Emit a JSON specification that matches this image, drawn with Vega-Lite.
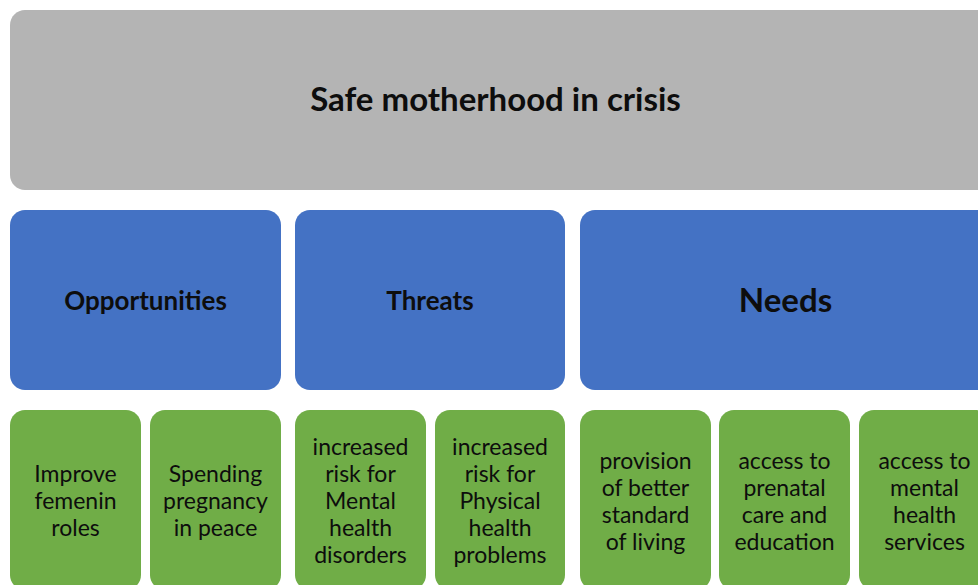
{
  "$schema": "https://vega.github.io/schema/vega-lite/v6.json",
  "autosize": {"type": "fit", "contains": "padding"},
  "width": 978,
  "height": 585,
  "padding": 0,
  "background": "white",
  "config": {"view": {"stroke": null}},
  "data": {
    "values": [
      {"level": "top", "label": "Safe motherhood in crisis", "x0": 10, "x1": 995, "y0": 10, "y1": 190},
      {"level": "group", "label": "Opportunities", "x0": 10, "x1": 281, "y0": 210, "y1": 390},
      {"level": "group", "label": "Threats", "x0": 295, "x1": 565, "y0": 210, "y1": 390},
      {"level": "group", "label": "Needs", "x0": 580, "x1": 995, "y0": 210, "y1": 390},
      {"level": "leaf", "label": "Improve\nfemenin\nroles", "x0": 10, "x1": 141, "y0": 410, "y1": 590},
      {"level": "leaf", "label": "Spending\npregnancy\nin peace", "x0": 150, "x1": 281, "y0": 410, "y1": 590},
      {"level": "leaf", "label": "increased\nrisk for\nMental\nhealth\ndisorders", "x0": 295, "x1": 426, "y0": 410, "y1": 590},
      {"level": "leaf", "label": "increased\nrisk for\nPhysical\nhealth\nproblems", "x0": 435, "x1": 565, "y0": 410, "y1": 590},
      {"level": "leaf", "label": "provision\nof better\nstandard\nof living", "x0": 580, "x1": 711, "y0": 410, "y1": 590},
      {"level": "leaf", "label": "access to\nprenatal\ncare and\neducation", "x0": 719, "x1": 850, "y0": 410, "y1": 590},
      {"level": "leaf", "label": "access to\nmental\nhealth\nservices", "x0": 859, "x1": 990, "y0": 410, "y1": 590}
    ]
  },
  "transform": [
    {"calculate": "(datum.x0 + datum.x1) / 2", "as": "xc"},
    {"calculate": "(datum.y0 + datum.y1) / 2", "as": "yc"},
    {"calculate": "datum.yc - (length(split(datum.label, '\\n')) - 1) * 13.5", "as": "ytext"}
  ],
  "encoding": {},
  "layer": [
    {
      "mark": {"type": "rect", "cornerRadius": 15, "clip": true},
      "encoding": {
        "x": {"field": "x0", "type": "quantitative", "scale": {"domain": [0, 978], "nice": false, "zero": false}, "axis": null},
        "x2": {"field": "x1"},
        "y": {"field": "y0", "type": "quantitative", "scale": {"domain": [0, 585], "nice": false, "zero": false, "reverse": true}, "axis": null},
        "y2": {"field": "y1"},
        "color": {"field": "level", "type": "nominal", "legend": null, "scale": {"domain": ["top", "group", "leaf"], "range": ["#b4b4b4", "#4472c4", "#70ad47"]}}
      }
    },
    {
      "transform": [{"filter": "datum.level == 'top'"}],
      "mark": {"type": "text", "font": "Lato", "fontWeight": "bold", "fontSize": 33, "color": "#0d0d0d", "baseline": "middle", "align": "center", "dx": -7, "dy": 1, "clip": true},
      "encoding": {
        "x": {"field": "xc", "type": "quantitative"},
        "y": {"field": "yc", "type": "quantitative"},
        "text": {"field": "label"}
      }
    },
    {
      "transform": [{"filter": "datum.level == 'group' && datum.label != 'Needs'"}],
      "mark": {"type": "text", "font": "Lato", "fontWeight": "bold", "fontSize": 26, "color": "#0d0d0d", "baseline": "middle", "align": "center", "dy": 2, "clip": true},
      "encoding": {
        "x": {"field": "xc", "type": "quantitative"},
        "y": {"field": "yc", "type": "quantitative"},
        "text": {"field": "label"}
      }
    },
    {
      "transform": [{"filter": "datum.label == 'Needs'"}],
      "mark": {"type": "text", "font": "Lato", "fontWeight": "bold", "fontSize": 33, "color": "#0d0d0d", "baseline": "middle", "align": "center", "dx": -2, "dy": 2, "clip": true},
      "encoding": {
        "x": {"field": "xc", "type": "quantitative"},
        "y": {"field": "yc", "type": "quantitative"},
        "text": {"field": "label"}
      }
    },
    {
      "transform": [{"filter": "datum.level == 'leaf'"}],
      "mark": {"type": "text", "font": "Lato", "fontSize": 23, "lineHeight": 27, "lineBreak": "\n", "color": "#0d0d0d", "baseline": "middle", "align": "center", "dy": 2, "clip": true},
      "encoding": {
        "x": {"field": "xc", "type": "quantitative"},
        "y": {"field": "ytext", "type": "quantitative"},
        "text": {"field": "label"}
      }
    }
  ]
}
